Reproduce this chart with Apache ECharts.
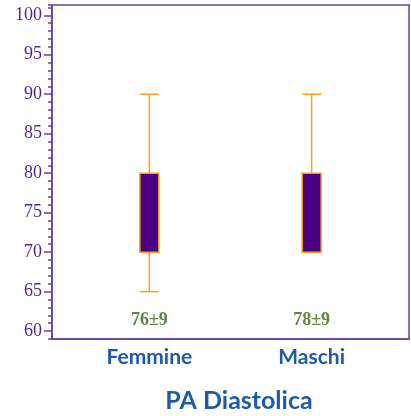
<!DOCTYPE html>
<html>
<head>
<meta charset="utf-8">
<script src="https://cdn.jsdelivr.net/npm/echarts@6/dist/echarts.min.js"></script>
<style>
  html, body { margin: 0; padding: 0; background: #fff; }
  #chart { width: 411px; height: 416px; }
</style>
</head>
<body>
<div id="chart"></div>
<script>
// dati
const categories = ['Femmine', 'Maschi'];
const whiskerLow = [65, 70];
const boxLow = [70, 70];
const boxHigh = [80, 80];
const whiskerHigh = [90, 90];
const meanLabels = ['76±9', '78±9'];
const labelY = [61.4, 61.4];
const majorTicks = [60, 65, 70, 75, 80, 85, 90, 95, 100];

const purple = '#6b3fa0';
const orange = '#f7a21b';

const chart = echarts.init(document.getElementById('chart'));

const boxData = categories.map((c, i) => [i, whiskerLow[i], boxLow[i], boxHigh[i], whiskerHigh[i]]);

chart.setOption({
  animation: false,
  title: {
    text: 'PA Diastolica',
    left: 234,
    textAlign: 'center',
    top: 383,
    textStyle: { color: '#1d5ba6', fontSize: 25, fontWeight: 'bold', fontFamily: 'Lato' }
  },
  grid: {
    left: 52, right: 2, top: 5, bottom: 77,
    show: true, borderColor: purple, borderWidth: 1.5, backgroundColor: '#fff'
  },
  xAxis: {
    type: 'value',
    min: -0.6, max: 1.6,
    splitLine: { show: false },
    axisLine: { onZero: false, lineStyle: { color: purple, width: 1.5 } },
    axisTick: { show: false },
    axisLabel: {
      customValues: [0, 1],
      formatter: v => categories[v],
      color: '#1d5ba6', fontSize: 21, fontWeight: 'bold', fontFamily: 'Lato', margin: 8
    }
  },
  yAxis: [
    {
      type: 'value', min: 59, max: 101.3, interval: 1,
      splitLine: { show: false },
      axisLine: { onZero: false, lineStyle: { color: purple, width: 1.5 } },
      axisTick: { length: 4, lineStyle: { color: purple, width: 1.5 } },
      axisLabel: { show: false }
    },
    {
      type: 'value', min: 59, max: 101.3, position: 'left',
      splitLine: { show: false },
      axisLine: { show: false, onZero: false },
      axisTick: { customValues: majorTicks, length: 8, lineStyle: { color: purple, width: 1.5 } },
      axisLabel: {
        customValues: majorTicks,
        color: '#52288c', fontSize: 18, fontFamily: 'Liberation Serif', margin: 10
      }
    }
  ],
  series: [
    {
      type: 'custom',
      data: boxData,
      renderItem: function (params, api) {
        const x = api.value(0);
        const p = api.coord([x, api.value(1)]);
        const q1 = api.coord([x, api.value(2)]);
        const q3 = api.coord([x, api.value(3)]);
        const top = api.coord([x, api.value(4)]);
        const hw = 9.5;
        return {
          type: 'group',
          children: [
            { type: 'line', shape: { x1: p[0], y1: p[1], x2: p[0], y2: q1[1] }, style: { stroke: orange, lineWidth: 1.5 } },
            { type: 'line', shape: { x1: top[0], y1: top[1], x2: top[0], y2: q3[1] }, style: { stroke: orange, lineWidth: 1.5 } },
            { type: 'line', shape: { x1: p[0] - hw, y1: p[1], x2: p[0] + hw, y2: p[1] }, style: { stroke: orange, lineWidth: 1.5, opacity: p[1] === q1[1] ? 0 : 1 } },
            { type: 'line', shape: { x1: top[0] - hw, y1: top[1], x2: top[0] + hw, y2: top[1] }, style: { stroke: orange, lineWidth: 1.5 } },
            { type: 'rect', shape: { x: q3[0] - hw, y: q3[1], width: hw * 2, height: q1[1] - q3[1] }, style: { fill: '#4b0082', stroke: orange, lineWidth: 1.5 } }
          ]
        };
      }
    },
    {
      type: 'scatter',
      symbolSize: 0,
      data: meanLabels.map((t, i) => [i, labelY[i]]),
      label: {
        show: true, position: 'inside',
        formatter: p => meanLabels[p.dataIndex],
        color: '#3a6610', fontSize: 18, fontWeight: 'bold', fontFamily: 'Liberation Serif'
      }
    }
  ]
});
</script>
</body>
</html>
